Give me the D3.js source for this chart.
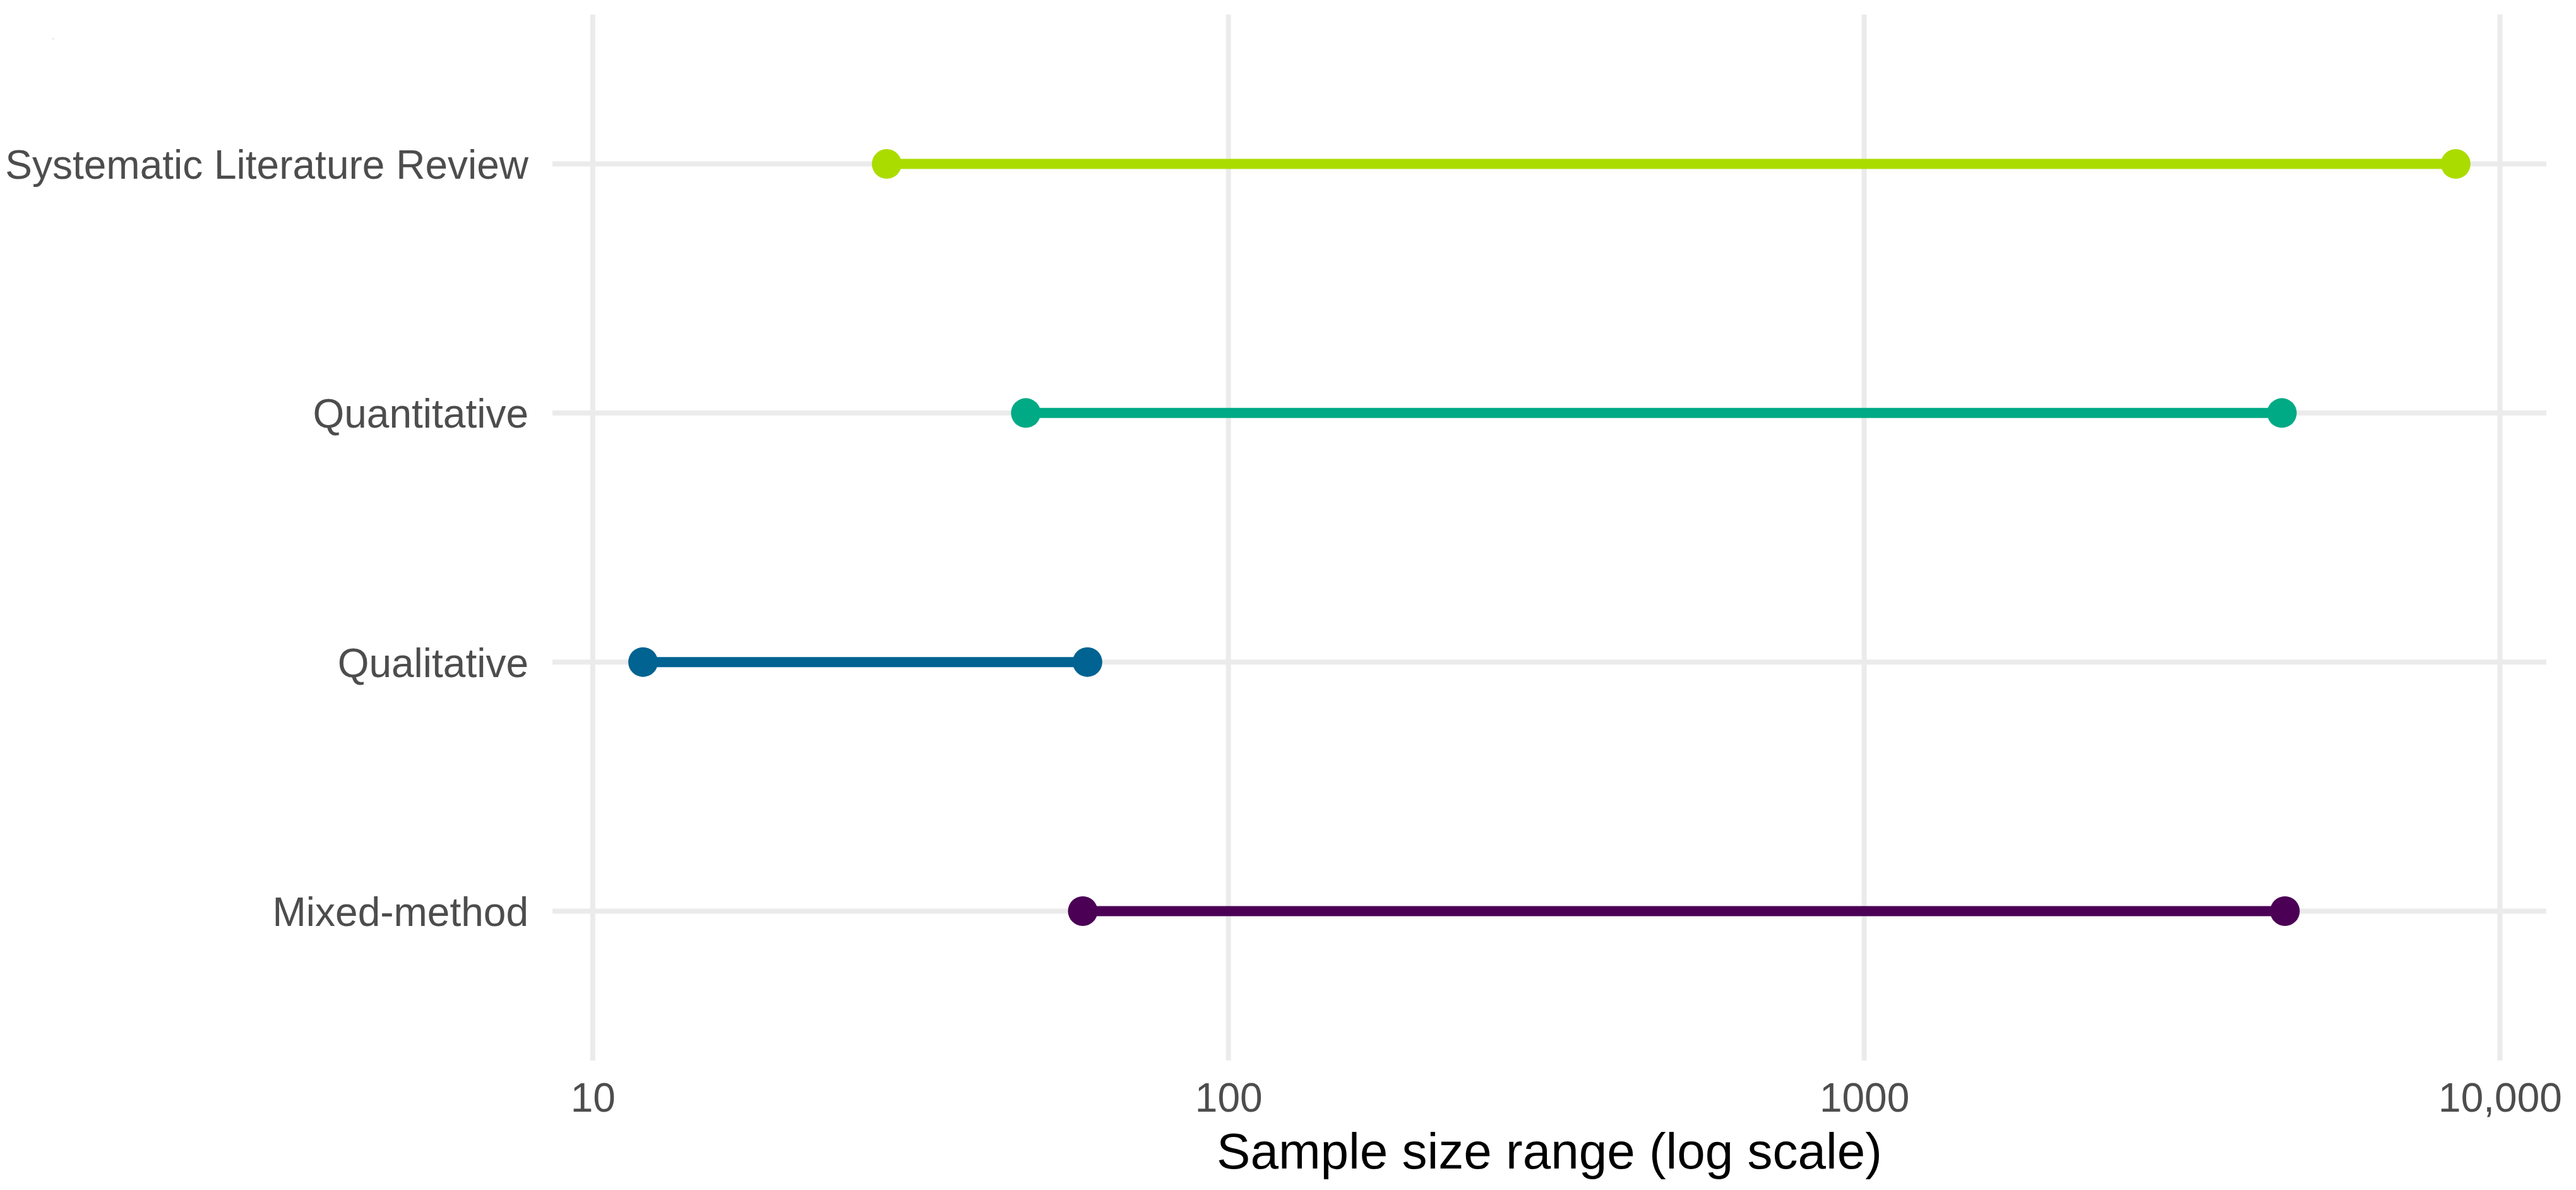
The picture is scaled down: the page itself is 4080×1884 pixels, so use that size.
<!DOCTYPE html>
<html>
<head>
<meta charset="utf-8">
<script src="https://cdn.jsdelivr.net/npm/d3@7"></script>
<style>
  html, body { margin: 0; padding: 0; background: #ffffff; }
  svg { display: block; }
  text { font-family: "Liberation Sans", Arial, sans-serif; }
</style>
</head>
<body>
<svg id="chart" width="4080" height="1884"></svg>
<script>
// ---- data ----
const categories = ["Mixed-method", "Qualitative", "Quantitative", "Systematic Literature Review"];
const minValues  = [59, 12, 48, 29];
const maxValues  = [4590, 60, 4540, 8520];
const colors     = ["#4B0055", "#006391", "#00AA85", "#ABDC00"];
const tickValues = [10, 100, 1000, 10000];
const tickLabels = ["10", "100", "1000", "10,000"];
const xTitle = "Sample size range (log scale)";

// ---- layout ----
const W = 4080, H = 1884;
const panel = { left: 875, right: 4033, top: 23, bottom: 1679 };

const svg = d3.select("#chart");

// x: log scale with ggplot-style 5% expansion in log space
const lmin = Math.log10(d3.min(minValues));
const lmax = Math.log10(d3.max(maxValues));
const pad = (lmax - lmin) * 0.05;
const x = d3.scaleLog()
  .domain([Math.pow(10, lmin - pad), Math.pow(10, lmax + pad)])
  .range([panel.left, panel.right]);

// y: discrete with 0.6 unit expansion
const n = categories.length;
const yLin = d3.scaleLinear()
  .domain([1 - 0.6, n + 0.6])
  .range([panel.bottom, panel.top]);
const y = c => yLin(categories.indexOf(c) + 1);

const grid = svg.append("g");
grid.selectAll("line.vx").data(tickValues).join("line")
  .attr("x1", d => x(d)).attr("x2", d => x(d))
  .attr("y1", panel.top).attr("y2", panel.bottom)
  .attr("stroke", "#EBEBEB").attr("stroke-width", 8);
grid.selectAll("line.hy").data(categories).join("line")
  .attr("x1", panel.left).attr("x2", panel.right)
  .attr("y1", d => y(d)).attr("y2", d => y(d))
  .attr("stroke", "#EBEBEB").attr("stroke-width", 8);

// x axis
const xAxis = d3.axisBottom(x)
  .tickValues(tickValues)
  .tickFormat((d, i) => tickLabels[i])
  .tickSize(0).tickPadding(0);
const gx = svg.append("g").attr("transform", `translate(0,${panel.bottom})`).call(xAxis);
gx.select(".domain").remove();
gx.selectAll("text")
  .attr("y", 81).attr("dy", null)
  .attr("font-size", 64)
  .attr("fill", "#4D4D4D")
  .attr("font-family", "Liberation Sans, Arial, sans-serif");

// y axis
const yAxis = d3.axisLeft(d3.scalePoint().domain(categories).range([y(categories[0]), y(categories[n - 1])]))
  .tickSize(0).tickPadding(0);
const gy = svg.append("g").attr("transform", `translate(${panel.left - 38},0)`).call(yAxis);
gy.select(".domain").remove();
gy.selectAll("text")
  .attr("x", 0).attr("dy", "0.36em")
  .attr("font-size", 64)
  .attr("fill", "#4D4D4D")
  .attr("font-family", "Liberation Sans, Arial, sans-serif");

// segments
const data = categories.map((c, i) => ({ c, lo: minValues[i], hi: maxValues[i], col: colors[i] }));
svg.append("g").selectAll("line").data(data).join("line")
  .attr("x1", d => x(d.lo)).attr("x2", d => x(d.hi))
  .attr("y1", d => y(d.c)).attr("y2", d => y(d.c))
  .attr("stroke", d => d.col).attr("stroke-width", 16);

// points
const pts = svg.append("g");
pts.selectAll("circle.lo").data(data).join("circle")
  .attr("cx", d => x(d.lo)).attr("cy", d => y(d.c)).attr("r", 23.5)
  .attr("fill", d => d.col);
pts.selectAll("circle.hi").data(data).enter().append("circle")
  .attr("cx", d => x(d.hi)).attr("cy", d => y(d.c)).attr("r", 23.5)
  .attr("fill", d => d.col);

// x title
svg.append("text")
  .attr("x", (panel.left + panel.right) / 2)
  .attr("y", 1850)
  .attr("text-anchor", "middle")
  .attr("font-size", 80)
  .attr("fill", "#000000")
  .text(xTitle);

// tiny stray mark at top-left (as in reference)
svg.append("text")
  .attr("x", 83).attr("y", 62)
  .attr("font-size", 8)
  .attr("fill", "#333333")
  .text(".");
</script>
</body>
</html>
